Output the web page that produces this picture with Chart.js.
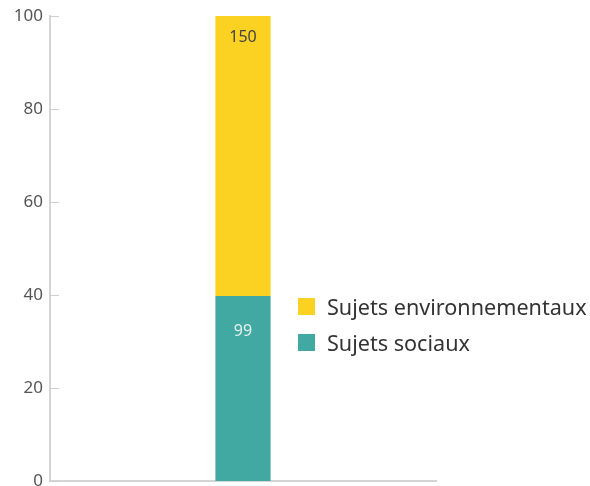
<!DOCTYPE html>
<html>
<head>
<meta charset="utf-8">
<script src="https://cdn.jsdelivr.net/npm/chart.js"></script>
<style>
  html, body { margin: 0; padding: 0; background: #fff; }
  #wrap { position: relative; width: 590px; height: 486px; }
  #legend { position: absolute; left: 298px; top: 288px; font-family: "Noto Sans", sans-serif; font-size: 21.6px; color: #333; }
  .item { display: flex; align-items: center; height: 36px; white-space: nowrap; }
  .box { width: 17px; height: 17px; margin-right: 12px; flex: none; }
</style>
</head>
<body>
<div id="wrap">
  <canvas id="c" width="590" height="486"></canvas>
  <div id="legend"></div>
</div>
<script>
// data
const categories = [""];
const seriesNames = ["Sujets sociaux", "Sujets environnementaux"];
const seriesCounts = [99, 150];
const seriesColors = ["#41a9a1", "#fcd222"];
const labelColors = ["#e4f3f1", "#444444"];
const labelOffsets = [35, 21];
const yTicks = [0, 20, 40, 60, 80, 100];

const total = seriesCounts.reduce((a, b) => a + b, 0);

// value labels near the top of each segment
const segLabels = {
  id: "segLabels",
  afterDatasetsDraw(chart) {
    const ctx = chart.ctx;
    ctx.save();
    ctx.font = "16px 'Noto Sans', sans-serif";
    ctx.textAlign = "center";
    ctx.textBaseline = "middle";
    chart.data.datasets.forEach((ds, i) => {
      chart.getDatasetMeta(i).data.forEach(bar => {
        ctx.fillStyle = labelColors[i];
        ctx.fillText(String(seriesCounts[i]), bar.x, bar.y + labelOffsets[i]);
      });
    });
    ctx.restore();
  }
};

// small tick marks drawn inward from the y axis
const innerTicks = {
  id: "innerTicks",
  afterDraw(chart) {
    const ctx = chart.ctx, y = chart.scales.y, left = chart.chartArea.left;
    ctx.save();
    ctx.strokeStyle = "#cfcfcf";
    ctx.lineWidth = 1;
    yTicks.forEach(t => {
      const py = Math.round(y.getPixelForValue(t)) + 0.5;
      ctx.beginPath();
      ctx.moveTo(left, py);
      ctx.lineTo(left + 9, py);
      ctx.stroke();
    });
    ctx.restore();
  }
};

new Chart(document.getElementById("c"), {
  type: "bar",
  data: {
    labels: categories,
    datasets: seriesNames.map((n, i) => ({
      label: n,
      data: [seriesCounts[i] / total * 100],
      backgroundColor: seriesColors[i],
      barPercentage: 0.143,
      categoryPercentage: 1
    }))
  },
  options: {
    responsive: false,
    animation: false,
    layout: { padding: { top: 16, right: 154, bottom: 5, left: 0 } },
    plugins: { legend: { display: false }, tooltip: { enabled: false } },
    scales: {
      x: {
        stacked: true,
        grid: { display: false },
        border: { color: "#d5d5d5", width: 2 },
        ticks: { display: false },
        afterFit(s) { s.height = 0; }
      },
      y: {
        stacked: true,
        min: 0, max: 100,
        afterFit(s) { s.width = 50; s.paddingTop = 0; s.paddingBottom = 0; },
        afterBuildTicks(s) { s.ticks = yTicks.map(v => ({ value: v })); },
        grid: { display: false, drawTicks: false },
        border: { color: "#d5d5d5", width: 2 },
        ticks: {
          padding: 7,
          color: "#555",
          font: { family: "'Noto Sans', sans-serif", size: 17 }
        }
      }
    }
  },
  plugins: [segLabels, innerTicks]
});

// legend (top item is the upper segment)
const lg = document.getElementById("legend");
[1, 0].forEach(i => {
  const it = document.createElement("div");
  it.className = "item";
  it.innerHTML = '<span class="box" style="background:' + seriesColors[i] + '"></span>' + seriesNames[i];
  lg.appendChild(it);
});
</script>
</body>
</html>
